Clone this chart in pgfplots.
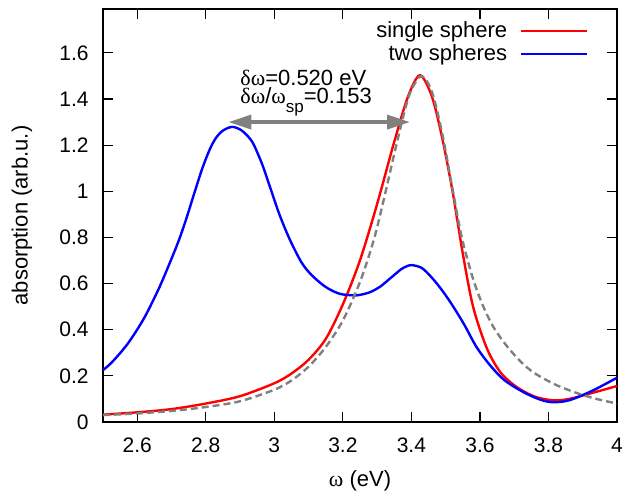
\documentclass[border=0pt]{standalone}
\usepackage{fontspec}
\setmainfont{Liberation Sans}
\newfontfamily\grk{Liberation Serif}
\usepackage{pgfplots}
\pgfplotsset{compat=1.18}
\usetikzlibrary{arrows.meta}

\definecolor{gpgray}{HTML}{808080}

\begin{document}
\begin{tikzpicture}
  \useasboundingbox (-51.5pt,-35.5pt) rectangle (269pt,211pt);
  \begin{axis}[
      scale only axis,
      width=257pt, height=206.5pt,
      xmin=2.5, xmax=4,
      ymin=0, ymax=1.79,
      xtick={2.6,2.8,3,3.2,3.4,3.6,3.8,4},
      ytick={0,0.2,0.4,0.6,0.8,1,1.2,1.4,1.6},
      minor tick num=0,
      major tick length=5pt,
      axis line style={line width=0.6pt},
      every tick/.style={black, line width=0.6pt},
      /pgf/number format/assume math mode=true,
      tick label style={font=\fontsize{10.5}{12}\selectfont},
      xticklabel style={yshift=-4.5pt},
      yticklabel style={xshift=-3.7pt},
      label style={font=\fontsize{11}{13}\selectfont},
      xlabel={{\grk ω} (eV)},
      ylabel={absorption (arb.u.)},
      xlabel style={at={(axis description cs:0.5,0)}, anchor=center, yshift=-29.5pt},
      ylabel style={at={(axis description cs:0,0.5)}, anchor=center, yshift=40.5pt},
      legend plot pos=right,
      legend cell align=right,
      legend image code/.code={\draw[#1] (0pt,0pt) -- (33pt,0pt);},
      legend style={at={(1,1)}, anchor=north east, xshift=-14pt, yshift=-5pt,
        draw=none, fill=none, inner xsep=0pt, inner ysep=0pt,
        nodes={inner sep=1pt, text depth=0.15em}, column sep=5.5pt,
        font=\fontsize{11}{13}\selectfont},
    ]
    % single sphere
    \addplot[red, line width=1.2pt, smooth, tension=0.5] coordinates {
      (2.50,0.032) (2.60,0.042) (2.70,0.056) (2.80,0.080) (2.90,0.112)
      (3.00,0.168) (3.05,0.210) (3.10,0.270) (3.15,0.360) (3.20,0.510)
      (3.25,0.701) (3.30,0.945) (3.35,1.215) (3.39,1.410) (3.425,1.503)
      (3.46,1.410) (3.49,1.230) (3.52,1.000) (3.55,0.730) (3.58,0.500)
      (3.62,0.320) (3.66,0.215) (3.707,0.152) (3.76,0.110) (3.814,0.094)
      (3.86,0.100) (3.92,0.123) (4.00,0.156)
    };
    \addlegendentry{single sphere}
    % two spheres
    \addplot[blue, line width=1.2pt, smooth, tension=0.5] coordinates {
      (2.50,0.225) (2.52,0.250) (2.545,0.290) (2.57,0.335) (2.59,0.378)
      (2.61,0.425) (2.63,0.478) (2.665,0.585) (2.695,0.690) (2.722,0.790)
      (2.745,0.890) (2.765,0.985) (2.79,1.100) (2.812,1.183) (2.83,1.232)
      (2.85,1.263) (2.876,1.279) (2.90,1.268) (2.92,1.243) (2.939,1.205)
      (2.965,1.115) (2.987,1.020) (3.016,0.895) (3.046,0.788) (3.08,0.690)
      (3.11,0.635) (3.15,0.585) (3.19,0.556) (3.23,0.549) (3.25,0.551)
      (3.28,0.563) (3.31,0.588) (3.34,0.625) (3.37,0.662) (3.385,0.674)
      (3.40,0.680) (3.43,0.668) (3.46,0.625) (3.49,0.570) (3.52,0.505)
      (3.555,0.420) (3.59,0.325) (3.63,0.245) (3.67,0.183) (3.72,0.135)
      (3.77,0.100) (3.81,0.086) (3.86,0.094) (3.93,0.137) (4.00,0.192)
    };
    \addlegendentry{two spheres}
    % reference curve
    \addplot[gpgray, line width=1.2pt, dash pattern=on 3.5pt off 2pt, smooth, tension=0.5, forget plot] coordinates {
      (2.50,0.030) (2.60,0.037) (2.70,0.048) (2.80,0.065) (2.90,0.090)
      (3.00,0.140) (3.05,0.180) (3.10,0.240) (3.15,0.325) (3.20,0.440)
      (3.25,0.607) (3.29,0.788) (3.32,0.968) (3.35,1.162) (3.38,1.347)
      (3.40,1.440) (3.43,1.500) (3.46,1.430) (3.49,1.250) (3.52,1.010)
      (3.547,0.800) (3.58,0.620) (3.61,0.500) (3.64,0.410) (3.678,0.330)
      (3.72,0.260) (3.756,0.215) (3.80,0.177) (3.834,0.153) (3.88,0.127)
      (3.92,0.108) (3.96,0.093) (4.00,0.080)
    };
    \draw[gpgray, line width=1.8pt, {Triangle[length=11.5pt,width=7pt]}-{Triangle[length=11.5pt,width=7pt]}]
      (axis cs:2.866,1.3) -- (axis cs:3.396,1.3);
    % both lines of the note in one box, set as tight as in the original
    \node[anchor=base west, inner sep=0pt, font=\fontsize{11}{13}\selectfont]
      at (axis cs:2.90,1.380) {\vbox{\baselineskip=9.2pt\lineskiplimit=-20pt
        \hbox{{\grk δω}=0.520 eV}
        \hbox{{\grk δω}/{\grk ω}\raisebox{-0.4em}{\fontsize{8.5}{9}\selectfont sp}=0.153}}};
  \end{axis}
\end{tikzpicture}
\end{document}
